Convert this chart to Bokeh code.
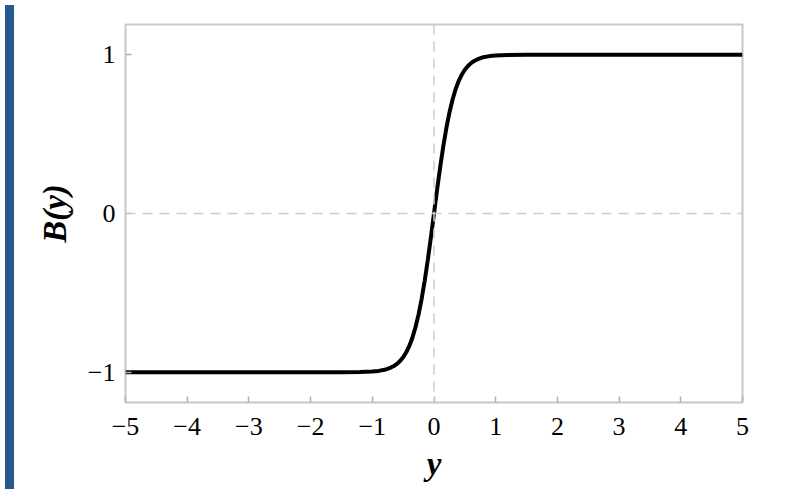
from bokeh.plotting import figure
from bokeh.models import Range1d, FixedTicker, Span, Div
from bokeh.layouts import row
from bokeh.embed import file_html
from bokeh.resources import INLINE

# Curve B(y)
y_vals = [-5.0, -2.0, -1.5, -1.2, -1.0, -0.9, -0.8, -0.7, -0.65, -0.6, -0.55, -0.5, -0.45, -0.4,
          -0.35, -0.3, -0.25, -0.2, -0.15, -0.1, -0.05, 0.0,
          0.05, 0.1, 0.15, 0.2, 0.25, 0.3, 0.35, 0.4, 0.45, 0.5, 0.55, 0.6, 0.65, 0.7,
          0.8, 0.9, 1.0, 1.2, 1.5, 2.0, 5.0]
b_vals = [-1.0, -1.0, -0.9998, -0.9985, -0.995, -0.991, -0.984, -0.970, -0.960, -0.947, -0.929, -0.905, -0.874, -0.834,
          -0.782, -0.716, -0.635, -0.537, -0.422, -0.291, -0.149, 0.0,
          0.149, 0.291, 0.422, 0.537, 0.635, 0.716, 0.782, 0.834, 0.874, 0.905, 0.929, 0.947, 0.960, 0.970,
          0.984, 0.991, 0.995, 0.9985, 0.9998, 1.0, 1.0]

x_ticks = [-5, -4, -3, -2, -1, 0, 1, 2, 3, 4, 5]
x_tick_labels = ["−5", "−4", "−3", "−2", "−1", "0", "1", "2", "3", "4", "5"]
y_ticks = [-1, 0, 1]
y_tick_labels = ["−1", "0", "1"]

SERIF = "Liberation Serif"

p = figure(width=779, height=484, output_backend="svg", toolbar_location=None,
           x_range=Range1d(-5, 5), y_range=Range1d(-1.19, 1.19),
           min_border_left=106, min_border_right=56, min_border_top=24, min_border_bottom=82)
p.background_fill_color = "white"
p.border_fill_color = "white"
p.outline_line_color = "#c8c8c8"
p.outline_line_width = 2
p.grid.visible = False

p.add_layout(Span(location=0, dimension="height", line_color="#cccccc", line_width=1.5, line_dash="10 7"))
p.add_layout(Span(location=0, dimension="width", line_color="#cccccc", line_width=1.5, line_dash="10 7"))

p.line(y_vals, b_vals, line_color="black", line_width=4)

for ax, ticks, labels in ((p.xaxis[0], x_ticks, x_tick_labels), (p.yaxis[0], y_ticks, y_tick_labels)):
    ax.ticker = FixedTicker(ticks=ticks, minor_ticks=[])
    ax.major_label_overrides = {t: l for t, l in zip(ticks, labels)}
    ax.axis_line_color = None
    ax.major_tick_in = 6
    ax.major_tick_out = 0
    ax.major_tick_line_color = "#b0b0b0"
    ax.major_tick_line_width = 1.5
    ax.minor_tick_line_color = None
    ax.major_label_text_font = SERIF
    ax.major_label_text_font_size = "26px"
    ax.major_label_text_color = "#000000"
    ax.axis_label_text_font = SERIF
    ax.axis_label_text_font_style = "bold italic"
    ax.axis_label_text_font_size = "33px"
    ax.axis_label_text_color = "#000000"

p.xaxis.axis_label = "y"
p.yaxis.axis_label = "B(y)"
p.xaxis.major_label_standoff = 15
p.yaxis.major_label_standoff = 10
p.xaxis.axis_label_standoff = 8
p.yaxis.axis_label_standoff = 12

strip = Div(width=9, height=484, styles={"background-color": "#255b8d"})

layout = row(strip, p, spacing=0)
open("out.html", "w").write(file_html(layout, INLINE))
